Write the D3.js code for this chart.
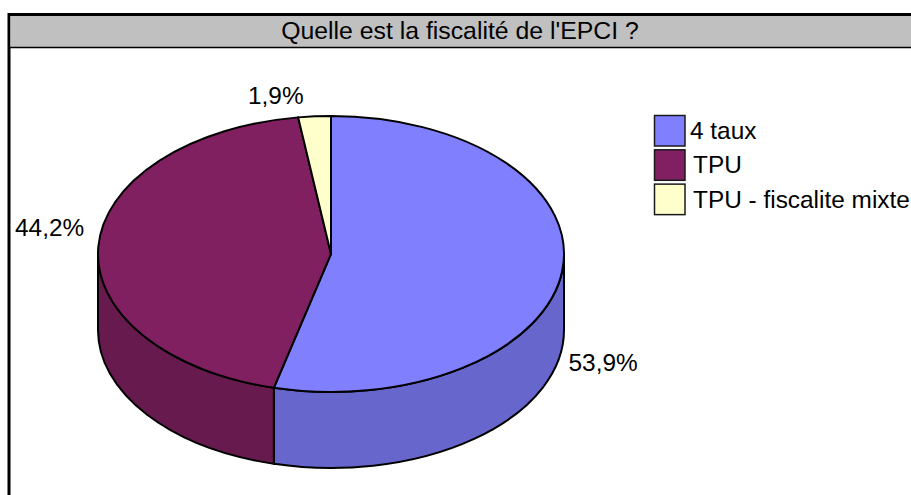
<!DOCTYPE html>
<html><head><meta charset="utf-8">
<script src="https://cdnjs.cloudflare.com/ajax/libs/d3/7.8.5/d3.min.js"></script>
<style>html,body{margin:0;padding:0;background:#fff;overflow:hidden}svg{display:block}text{font-family:"Liberation Sans",Arial,sans-serif;fill:#000}</style>
</head><body>
<svg id="c" width="911" height="495"></svg>
<script>
const categories = ["4 taux", "TPU", "TPU - fiscalite mixte"];
const values = [53.9, 44.2, 1.9];
const labels = ["53,9%", "44,2%", "1,9%"];
const topColors = ["#8080FF", "#802060", "#FFFFCC"];
const sideColors = ["#6666CC", "#661A4D", "#CCCCA3"];
const titleText = "Quelle est la fiscalité de l'EPCI ?";

const svg = d3.select("#c");
const cx = 331, cy = 254, rx = 233, ry = 138, depth = 76;
const ky = ry / rx, depthU = depth / ky;
const rad = d => d * Math.PI / 180;

// frame and title
svg.append("rect").attr("x", 9).attr("y", 14.5).attr("width", 920).attr("height", 520).attr("fill", "#fff").attr("stroke", "#000").attr("stroke-width", 3);
svg.append("rect").attr("x", 10.5).attr("y", 16).attr("width", 901).attr("height", 31).attr("fill", "#C0C0C0");
svg.append("line").attr("x1", 9).attr("x2", 911).attr("y1", 47.5).attr("y2", 47.5).attr("stroke", "#000").attr("stroke-width", 1.5);
svg.append("text").attr("x", 460).attr("y", 38.5).attr("text-anchor", "middle").attr("font-size", 24.8).text(titleText);

// 3D view foreshortening of the pie angle (data angle -> drawn angle)
const view = d3.scaleLinear().domain([0, rad(194.04), rad(353.16), rad(360)]).range([0, rad(194.2), rad(351.9), rad(360)]);
const arcs = d3.pie().sort(null).value(d => d)(values)
  .map(d => ({...d, startAngle: view(d.startAngle), endAngle: view(d.endAngle)}));
const g = svg.append("g").attr("transform", `translate(${cx},${cy}) scale(1,${ky})`);
const a90 = Math.PI / 2;

function wallPath(a0, a1) {
  const p = d3.path();
  p.arc(0, 0, rx, a0 - a90, a1 - a90);
  p.lineTo(rx * Math.cos(a1 - a90), rx * Math.sin(a1 - a90) + depthU);
  p.arc(0, depthU, rx, a1 - a90, a0 - a90, true);
  p.closePath();
  return p.toString();
}
arcs.forEach((d, i) => {
  const a0 = Math.max(d.startAngle, a90), a1 = Math.min(d.endAngle, 3 * a90);
  if (a1 > a0) {
    g.append("path").attr("d", wallPath(a0, a1)).attr("fill", sideColors[i])
      .attr("stroke", "#000").attr("stroke-width", 2).attr("vector-effect", "non-scaling-stroke");
  }
});
const arcGen = d3.arc().innerRadius(0).outerRadius(rx);
g.selectAll("path.top").data(arcs).join("path").attr("class", "top")
  .attr("d", arcGen).attr("fill", (d, i) => topColors[i])
  .attr("stroke", "#000").attr("stroke-width", 2).attr("vector-effect", "non-scaling-stroke");

// data labels
const labelPos = [[568.5, 370.5], [15, 236], [248, 103.5]];
labels.forEach((t, i) => svg.append("text").attr("x", labelPos[i][0]).attr("y", labelPos[i][1]).attr("font-size", 24.4).text(t));

// legend
const ly = d3.scaleBand().domain(categories).range([115.5, 215]).paddingInner(0.1);
const legendTextX = [690, 693, 693];
categories.forEach((c, i) => {
  svg.append("rect").attr("x", 654.5).attr("y", ly(c)).attr("width", 30.5).attr("height", 30.5)
    .attr("fill", topColors[i]).attr("stroke", "#1a1a1a").attr("stroke-width", 1.5);
  svg.append("text").attr("x", legendTextX[i]).attr("y", ly(c) + 23.5).attr("font-size", 24.4).text(c);
});
</script>
</body></html>
